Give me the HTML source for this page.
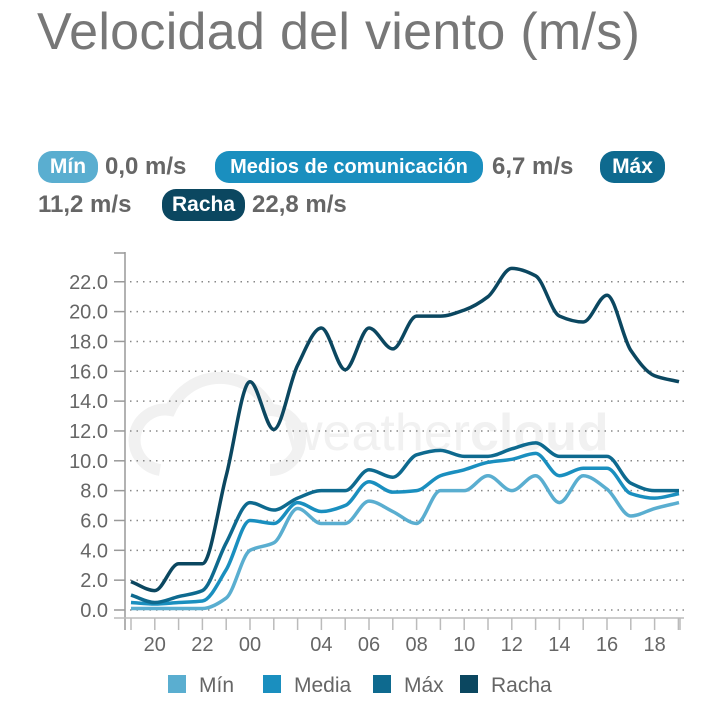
<!DOCTYPE html>
<html><head><meta charset="utf-8"><style>
body{margin:0;width:719px;height:716px;background:#fff;font-family:"Liberation Sans",sans-serif;overflow:hidden;position:relative}
.t{position:absolute;left:37px;top:2px;font-size:52px;color:#777;font-weight:300;letter-spacing:0.3px}
.v,.b{position:absolute;font-weight:bold;white-space:nowrap;height:32px;line-height:32px;text-align:center}
.v{font-size:24px;color:#666;text-align:left}
.b{color:#fff;border-radius:14px;font-size:21px}
</style></head><body>
<div class="t">Velocidad del viento (m/s)</div>
<div class="b" style="top:151px;left:38px;width:60px;background:#5aaed0">Mín</div>
<div class="v" style="top:151px;left:105px;width:88px">0,0 m/s</div>
<div class="b" style="top:151px;left:215px;width:268px;background:#1a8fbf;font-size:20px">Medios de comunicación</div>
<div class="v" style="top:151px;left:492px;width:88px">6,7 m/s</div>
<div class="b" style="top:151px;left:600px;width:65px;background:#0e6a8f">Máx</div>
<div class="v" style="top:189px;left:38px;width:102px">11,2 m/s</div>
<div class="b" style="top:189px;left:162px;width:83px;background:#0b4760">Racha</div>
<div class="v" style="top:189px;left:252px;width:103px">22,8 m/s</div>
<svg id="s" width="719" height="716" style="position:absolute;left:0;top:0" font-family="Liberation Sans, sans-serif"></svg>
<script>
const s=document.getElementById('s');let h='';
const Y=v=>610-v*14.92;
h+=`<text x="285" y="450" font-size="52" fill="#f1f1f1">weather<tspan font-weight="bold">cloud</tspan></text><path d="M160 470 a30 30 0 0 1 10-60 a55 55 0 0 1 100 0 a30 30 0 0 1 0 60" fill="none" stroke="#f1f1f1" stroke-width="12"/>`;
for(let v=0;v<=22;v+=2){const y=Y(v);h+=`<line x1="114" x2="125" y1="${y}" y2="${y}" stroke="#999" stroke-width="1.5"/><line x1="130" x2="685" y1="${y}" y2="${y}" stroke="#888" stroke-width="1.5" stroke-dasharray="1.5 5"/><text x="108" y="${y+7}" text-anchor="end" font-size="20" fill="#666">${v.toFixed(1)}</text>`;}
h+=`<line x1="125" x2="125" y1="252" y2="630" stroke="#999" stroke-width="1.5"/><line x1="114" x2="125" y1="253" y2="253" stroke="#999" stroke-width="1.5"/><line x1="114" x2="684" y1="618" y2="618" stroke="#bbb" stroke-width="1.5"/>`;
const xs=[];for(let i=0;i<24;i++)xs.push(131+i*23.8);
xs.forEach(x=>h+=`<line x1="${x}" x2="${x}" y1="618" y2="630" stroke="#bbb" stroke-width="1.5"/>`);
h+=`<line x1="680" x2="680" y1="618" y2="630" stroke="#bbb" stroke-width="1.5"/>`;
[[1,'20'],[3,'22'],[5,'00'],[8,'04'],[10,'06'],[12,'08'],[14,'10'],[16,'12'],[18,'14'],[20,'16'],[22,'18']].forEach(([i,l])=>h+=`<text x="${xs[i]}" y="651" text-anchor="middle" font-size="20" fill="#666">${l}</text>`);
const D={
'#0b4760':[1.9,1.3,3.1,3.1,9,15.3,12.1,16.4,18.9,16.1,18.9,17.5,19.7,19.7,20.1,21,22.9,22.4,19.7,19.3,21.1,17.4,15.7,15.3],
'#0e6a8f':[1.0,0.5,0.9,1.3,4.5,7.2,6.7,7.5,8,8,9.4,8.9,10.4,10.7,10.3,10.3,10.8,11.2,10.3,10.3,10.3,8.5,8,8],
'#1a8fbf':[0.5,0.4,0.5,0.6,2.7,6.0,5.8,7.2,6.6,7,8.6,7.9,8,9,9.4,9.9,10.1,10.5,9,9.5,9.5,7.8,7.5,7.8],
'#5aaed0':[0.1,0.1,0.1,0.1,0.8,4.0,4.5,6.8,5.8,5.8,7.3,6.6,5.8,8,8,9,8,9,7.2,9,8.1,6.3,6.8,7.2]};
const order=['#5aaed0','#1a8fbf','#0e6a8f','#0b4760'];
order.forEach(c=>{const p=D[c].map((v,i)=>[i==23?679:xs[i],Y(v)]);const n=p.length;
const dl=[],m=[];for(let i=0;i<n-1;i++)dl.push((p[i+1][1]-p[i][1])/(p[i+1][0]-p[i][0]));
for(let i=0;i<n;i++){if(i==0)m.push(dl[0]);else if(i==n-1)m.push(dl[n-2]);else if(dl[i-1]*dl[i]<=0)m.push(0);else m.push(2/(1/dl[i-1]+1/dl[i]));}
let d=`M${p[0]}`;
for(let i=0;i<n-1;i++){const hx=(p[i+1][0]-p[i][0])/3;d+=` C${p[i][0]+hx},${p[i][1]+m[i]*hx} ${p[i+1][0]-hx},${p[i+1][1]-m[i+1]*hx} ${p[i+1][0]},${p[i+1][1]}`;}
h+=`<path d="${d}" fill="none" stroke="${c}" stroke-width="3.5" stroke-linejoin="round"/>`;});
[[168,'#5aaed0','Mín'],[263,'#1a8fbf','Media'],[373,'#0e6a8f','Máx'],[460,'#0b4760','Racha']].forEach(([x,c,l])=>h+=`<rect x="${x}" y="675" width="18" height="18" fill="${c}"/><text x="${x+31}" y="692" font-size="21" fill="#666">${l}</text>`);
s.innerHTML=h;
</script>
</body></html>
